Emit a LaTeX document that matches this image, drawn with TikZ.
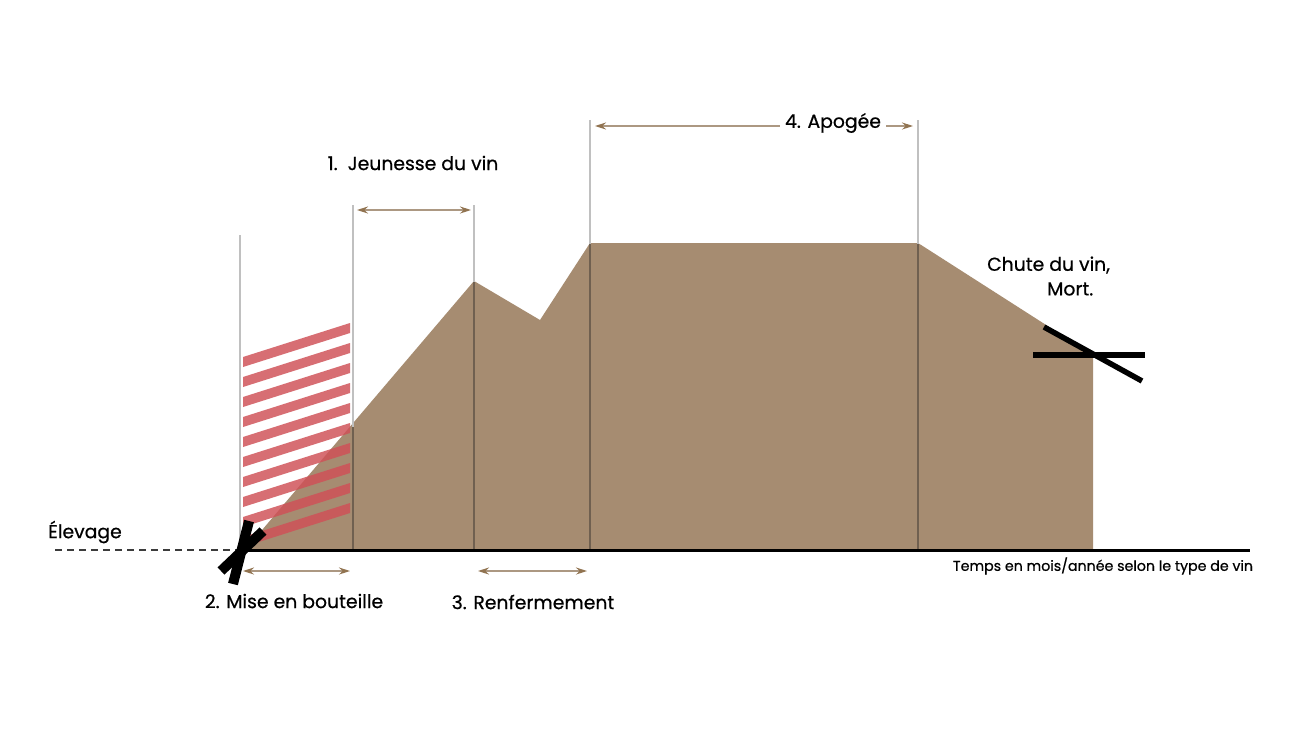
\documentclass[tikz,border=0pt]{standalone}
\usepackage{fontspec}
\setmainfont{Poppins}[FakeBold=0.6]
\usetikzlibrary{arrows.meta}
\definecolor{winebrown}{RGB}{166,140,113}
\definecolor{lightrule}{RGB}{192,192,192}
\definecolor{darkrule}{RGB}{112,96,80}
\definecolor{arrowline}{RGB}{172,152,130}
\definecolor{arrowhead}{RGB}{145,115,80}
\definecolor{stripered}{RGB}{207,81,87}
\definecolor{dashgrey}{RGB}{60,60,60}
\tikzset{
  lbl/.style={font=\fontsize{18.8}{22}\selectfont, text=black, inner sep=0pt},
  smalllbl/.style={font=\fontsize{14.2}{16}\selectfont, text=black, inner sep=0pt},
  lightv/.style={draw=lightrule, line width=1.2},
  darkv/.style={draw=darkrule, line width=1.2},
  span/.style={draw=arrowline, line width=1.2,
    {Stealth[length=11,width=7,color=arrowhead]}-{Stealth[length=11,width=7,color=arrowhead]}},
  stripe/.style={fill=stripered, fill opacity=0.83},
  barbig/.style={draw=black, line width=10, line cap=butt},
  barsmall/.style={draw=black, line width=5.5, line cap=butt}
}
\begin{document}
\begin{tikzpicture}[x=1pt,y=-1pt]
\useasboundingbox[fill=white] (0,0) rectangle (1300,732);
% brown area
\fill[winebrown] (245,550) -- (474,281) -- (540,320) -- (590,243) -- (918,243)
  -- (1093,355) -- (1093,550) -- cycle;
% vertical rules
\draw[lightv] (240,235) -- (240,549);
\draw[lightv] (353,205) -- (353,427);
\draw[darkv] (353,427) -- (353,549);
\draw[lightv] (474,205) -- (474,282);
\draw[darkv] (474,282) -- (474,549);
\draw[lightv] (590,120) -- (590,244);
\draw[darkv] (590,244) -- (590,549);
\draw[lightv] (918,120) -- (918,244);
\draw[darkv] (918,244) -- (918,549);
% red stripes
\foreach \k in {0,...,9}{
  \fill[stripe] (243,{357+20*\k}) -- (350,{323+20*\k}) -- (350,{333+20*\k}) -- (243,{367+20*\k}) -- cycle;
}
% axes
\coordinate (dashstart) at (55,550);
\coordinate (origin) at (240,550);
\coordinate (axisend) at (1250,550);
\draw[dashgrey, line width=1.5, dash pattern=on 7 off 5] (dashstart) -- (origin);
\draw[black, line width=3] (origin) -- (axisend);
% left cross
\draw[barbig] (249,521) -- (233,584);
\draw[barbig] (263,531) -- (221,571);
% right cross
\draw[barsmall] (1033,355) -- (1145,355);
\draw[barsmall] (1044,327) -- (1142,381);
% spans
\coordinate (j1) at (357,210); \coordinate (j2) at (471,210);
\coordinate (a1) at (595,126); \coordinate (a2) at (913,126);
\coordinate (m1) at (243,571); \coordinate (m2) at (350,571);
\coordinate (r1) at (478,571); \coordinate (r2) at (587,571);
\draw[span] (j1) -- (j2);
\draw[span] (a1) -- (a2);
\draw[span] (m1) -- (m2);
\draw[span] (r1) -- (r2);
% labels
\node[lbl] (jeunesse) at (413,163) {1.\ \ Jeunesse du vin};
\node[lbl, fill=white, inner xsep=5pt, inner ysep=2pt] (apogee) at (833,123) {4. Apogée};
\node[lbl, anchor=west] (chute) at (987,265) {Chute du vin,};
\node[lbl, anchor=west] (mort) at (1047,289) {Mort.};
\node[lbl] (elevage) at (85,532) {Élevage};
\node[lbl] (mise) at (294,601) {2. Mise en bouteille};
\node[lbl] (renf) at (533,602) {3. Renfermement};
\node[smalllbl] (temps) at (1103,566) {Temps en mois/année selon le type de vin};
\end{tikzpicture}
\end{document}
